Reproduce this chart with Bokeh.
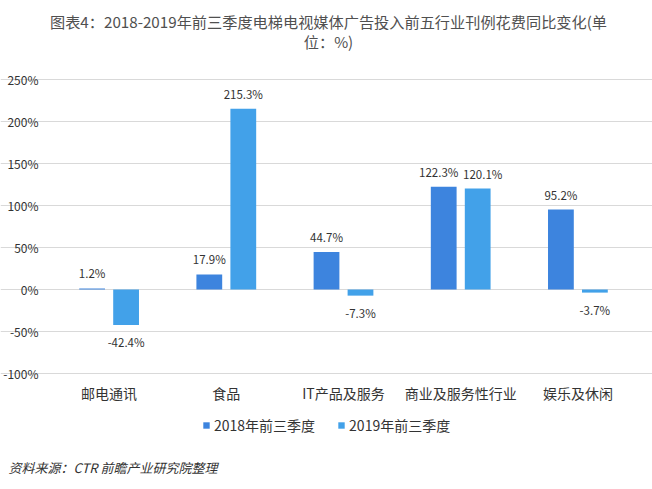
from bokeh.plotting import figure
from bokeh.models import (ColumnDataSource, Range1d, FixedTicker, LabelSet, Label,
                          Legend, LegendItem, Grid)
from bokeh.core.properties import value
from bokeh.embed import file_html
from bokeh.resources import INLINE

categories = ["邮电通讯", "食品", "IT产品及服务", "商业及服务性行业", "娱乐及休闲"]
series_names = ["2018年前三季度", "2019年前三季度"]
values_2018 = [1.2, 17.9, 44.7, 122.3, 95.2]
values_2019 = [-42.4, 215.3, -7.3, 120.1, -3.7]
y_ticks = [-100, -50, 0, 50, 100, 150, 200, 250]
y_tick_labels = ["-100%", "-50%", "0%", "50%", "100%", "150%", "200%", "250%"]
colors = ["#3d84de", "#42a1e9"]
title_line1 = "图表4：2018-2019年前三季度电梯电视媒体广告投入前五行业刊例花费同比变化(单"
title_line2 = "位：%)"
source_text = "资料来源：CTR 前瞻产业研究院整理"

FONT = "Noto Sans CJK SC"
W, H = 652, 489
# plot-area geometry (pixels): categories span x 50..636, value axis 250 at y=79, -100 at y=373
PX_L, PX_R, PY_T, PY_B = 50, 636, 79, 373
n = len(categories)
ux = (PX_R - PX_L) / n
uy = (PY_B - PY_T) / (y_ticks[-1] - y_ticks[0])
x_start = -PX_L / ux
x_end = n + (W - PX_R) / ux
y_end = y_ticks[-1] + PY_T / uy
y_start = y_ticks[0] - (H - PY_B) / uy

xc = [i + 0.5 for i in range(n)]
OFF = 0.145
BW = 0.22


def make_src(vals, other, dx, side):
    # labels of neighbouring bars with similar heights are nudged apart (as the original does)
    nudge = [side * 5 if abs(a - b) < 15 and a > 0 and b > 0 else 0 for a, b in zip(vals, other)]
    return ColumnDataSource(dict(
        x=[c + dx for c in xc],
        val=vals,
        label=["%.1f%%" % v for v in vals],
        base=["bottom" if v >= 0 else "top" for v in vals],
        off=[7 if v >= 0 else -9 for v in vals],
        nx=nudge,
    ))


src18 = make_src(values_2018, values_2019, -OFF, -1)
src19 = make_src(values_2019, values_2018, OFF, 1)

p = figure(width=W, height=H, x_range=Range1d(x_start, x_end), y_range=Range1d(y_start, y_end),
           x_axis_location=None, y_axis_location=None,
           output_backend="svg", toolbar_location=None,
           min_border_left=0, min_border_right=0, min_border_top=0, min_border_bottom=0)
p.outline_line_color = None
p.background_fill_color = "white"
p.border_fill_color = "white"
for g in p.grid:
    g.visible = False

grid = Grid(dimension=1, ticker=FixedTicker(ticks=y_ticks), grid_line_color="#d9d9d9",
            bounds=(0, n))
p.add_layout(grid)

r18 = p.vbar(x="x", top="val", bottom=0, width=BW, source=src18, color=colors[0], line_color=None)
r19 = p.vbar(x="x", top="val", bottom=0, width=BW, source=src19, color=colors[1], line_color=None)

for src in (src18, src19):
    p.add_layout(LabelSet(x="x", y="val", text="label", source=src,
                          text_align="center", text_baseline={"field": "base"},
                          y_offset={"field": "off"}, x_offset={"field": "nx"},
                          text_font=value(FONT), text_font_size="11.5px", text_color="#333333"))

# y tick labels
ytick_src = ColumnDataSource(dict(y=y_ticks, t=y_tick_labels))
p.add_layout(LabelSet(x=PX_L - 12, x_units="screen", y="y", text="t", source=ytick_src,
                      text_align="right", text_baseline="middle",
                      text_font=value(FONT), text_font_size="12px", text_color="#333333"))

# category labels under the lowest gridline
cat_src = ColumnDataSource(dict(x=xc, y=[y_ticks[0]] * n, t=categories))
p.add_layout(LabelSet(x="x", y="y", text="t", source=cat_src, y_offset=-19,
                      text_align="center", text_baseline="middle",
                      text_font=value(FONT), text_font_size="14px", text_color="#333333"))

legend = Legend(items=[LegendItem(label=series_names[0], renderers=[r18]),
                       LegendItem(label=series_names[1], renderers=[r19])],
                orientation="horizontal", location=(202, 54),
                label_text_font=FONT, label_text_font_size="14px", label_text_color="#333333",
                glyph_width=8, glyph_height=8, spacing=22, border_line_color=None,
                background_fill_alpha=0, padding=0, margin=0, label_standoff=4,
                label_height=20)
p.add_layout(legend)

p.add_layout(Label(x=W / 2 + 2, y=H - 20, x_units="screen", y_units="screen", text=title_line1,
                   text_align="center", text_baseline="middle", text_font=FONT,
                   text_font_size="15.2px", text_color="#505050"))
p.add_layout(Label(x=W / 2 + 2, y=H - 40, x_units="screen", y_units="screen", text=title_line2,
                   text_align="center", text_baseline="middle", text_font=FONT,
                   text_font_size="15.2px", text_color="#505050"))
p.add_layout(Label(x=8, y=H - 467, x_units="screen", y_units="screen", text=source_text,
                   text_align="left", text_baseline="middle", text_font=FONT,
                   text_font_size="13px", text_font_style="italic", text_color="#333333"))

open("out.html", "w").write(file_html(p, INLINE))
